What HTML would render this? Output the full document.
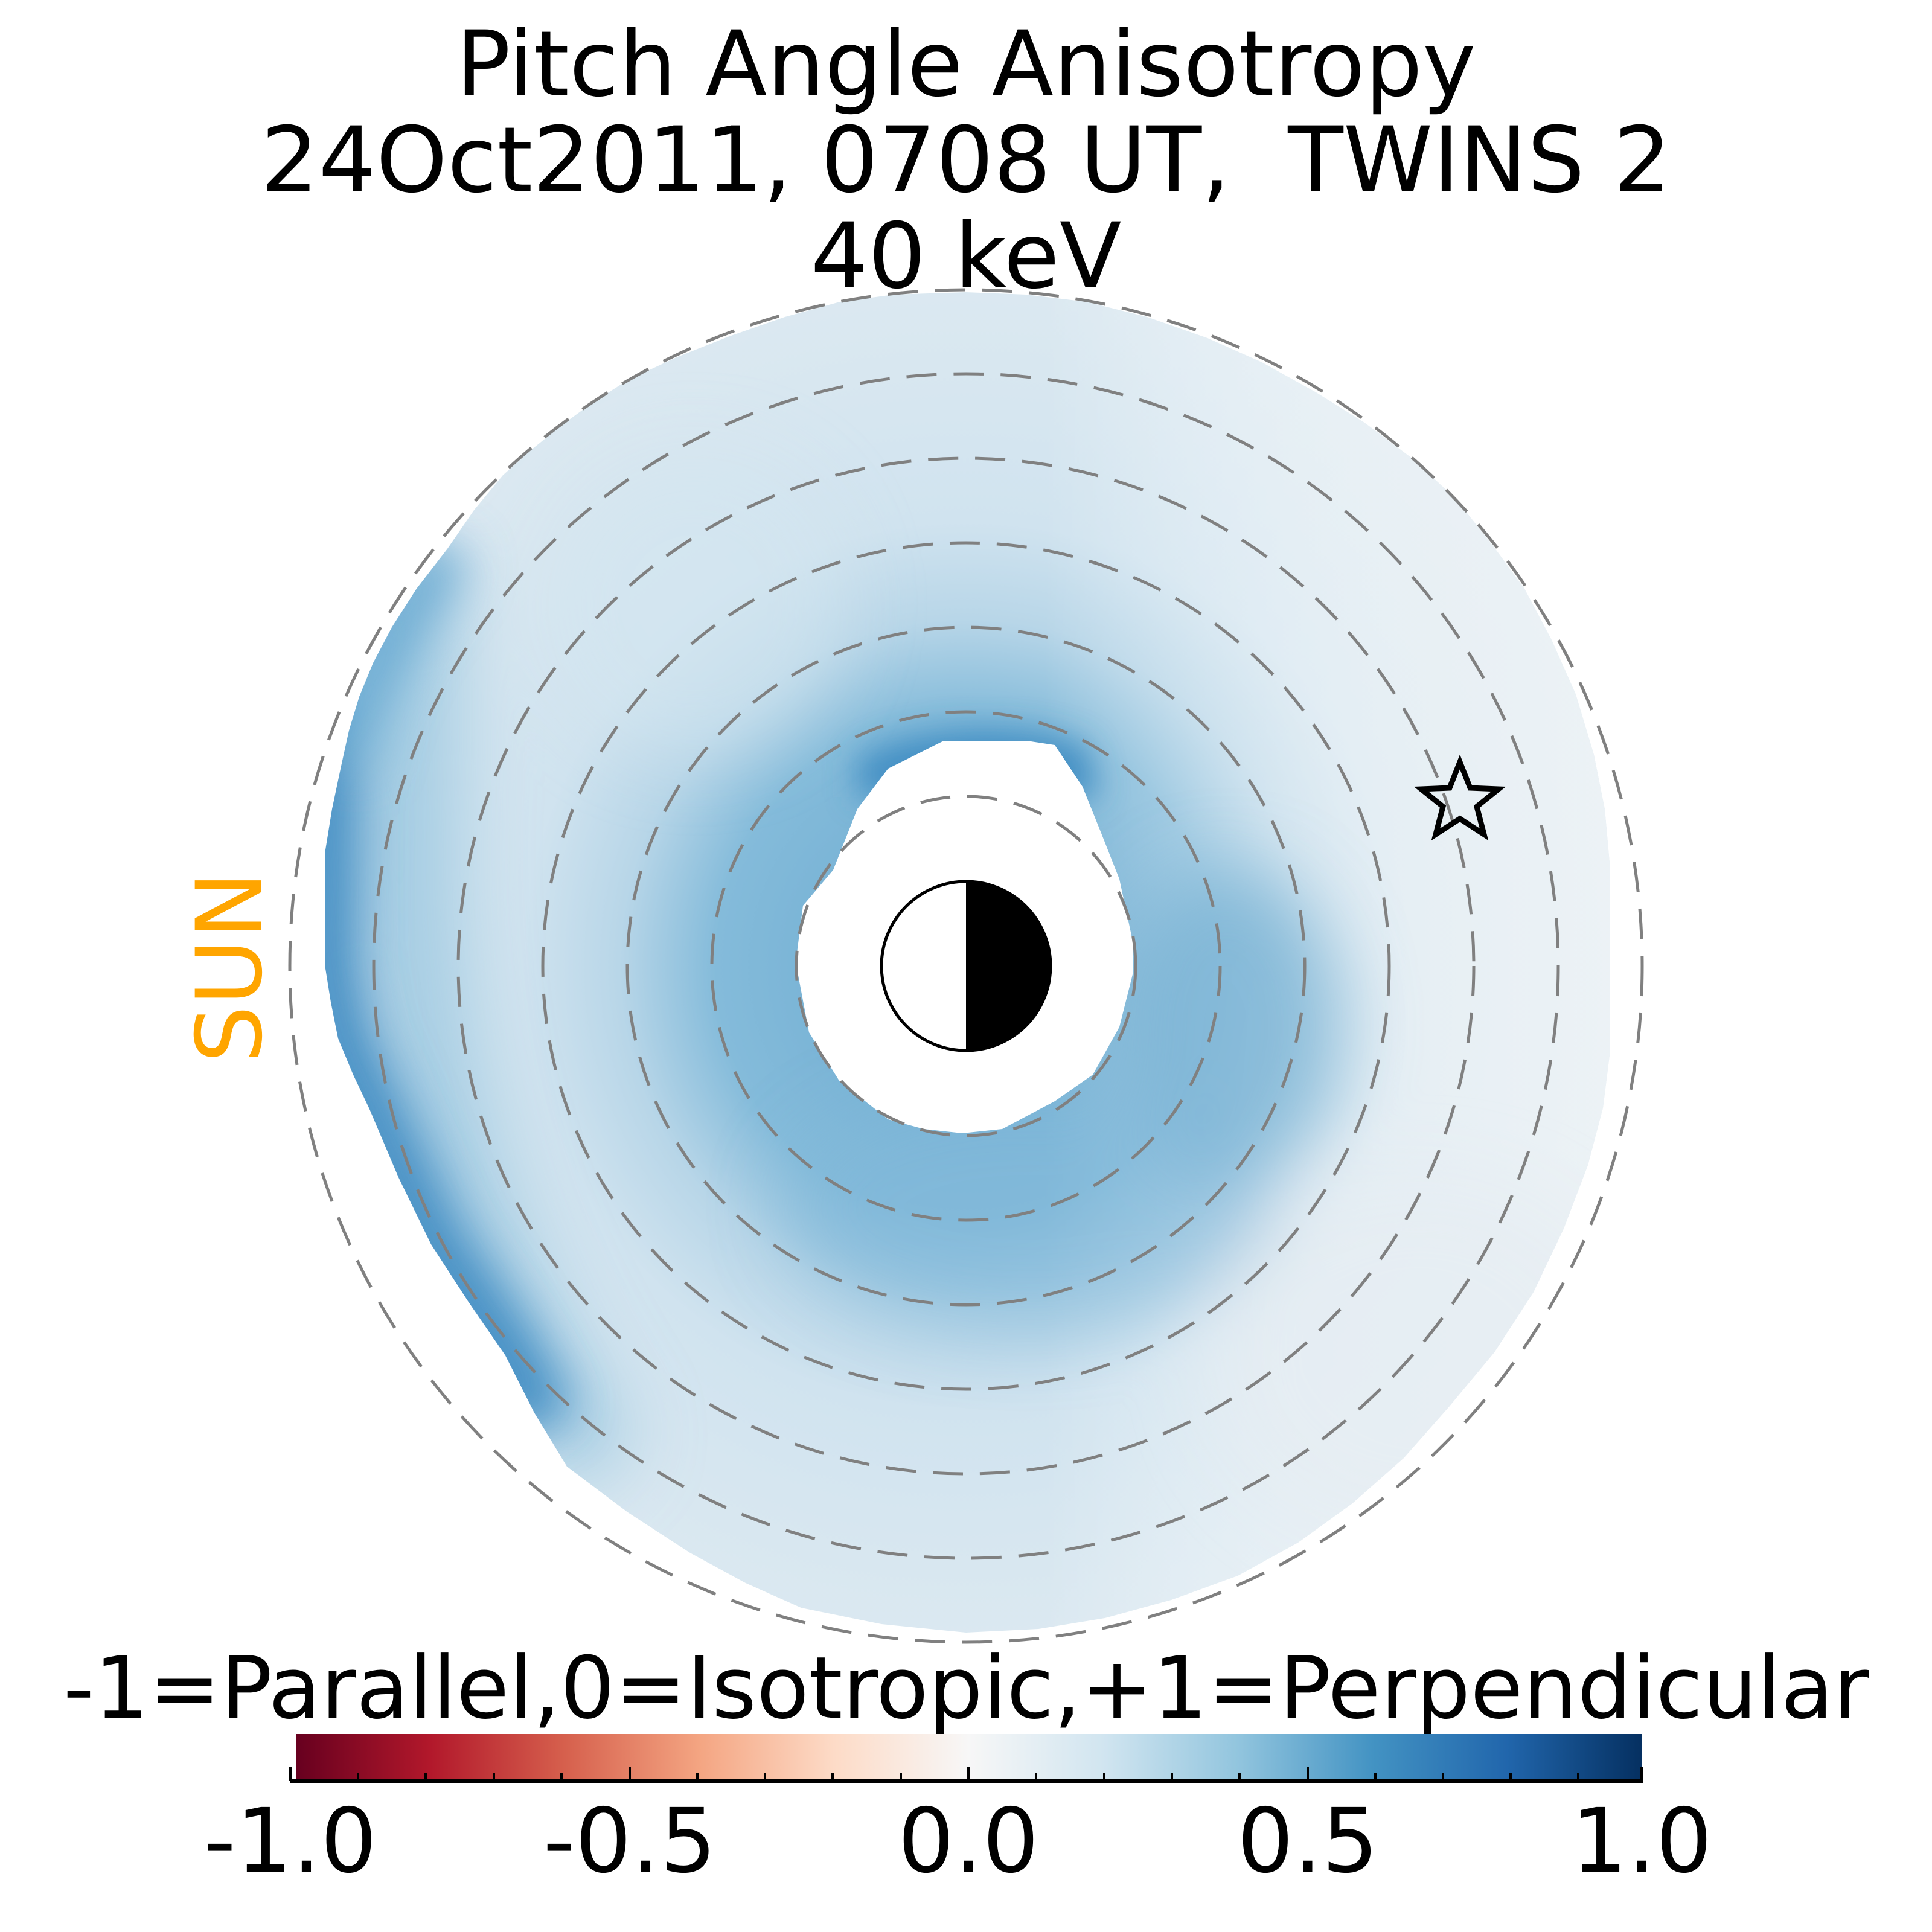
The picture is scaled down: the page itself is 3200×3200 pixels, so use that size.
<!DOCTYPE html>
<html><head><meta charset="utf-8"><style>
html,body{margin:0;padding:0;background:#fff;}
svg{display:block;}
text{font-family:"DejaVu Sans","Liberation Sans",sans-serif;}
</style></head><body>
<svg width="3200" height="3200" viewBox="0 0 3200 3200" xmlns="http://www.w3.org/2000/svg">
<defs>
<clipPath id="reg">
<path d="M1600,484 L1480,488 L1391,500 L1300,525 L1208,557 L1120,592 L1039,630 L980,668 L932,703 L880,745 L833,787 L785,845 L741,909 L690,975 L649,1039 L618,1098 L595,1154 L578,1210 L565,1269 L550,1340 L538,1414 L538,1598 L548,1660 L560,1720 L585,1780 L612,1837 L660,1950 L714,2061 L775,2155 L837,2245 L885,2340 L939,2429 L1040,2505 L1143,2572 L1235,2622 L1327,2663 L1460,2690 L1600,2704 L1720,2698 L1830,2680 L1940,2650 L2050,2610 L2150,2555 L2240,2490 L2325,2415 L2400,2330 L2475,2240 L2540,2140 L2590,2035 L2630,1930 L2655,1835 L2667,1740 L2667,1440 L2658,1340 L2640,1250 L2610,1150 L2570,1060 L2525,975 L2470,900 L2410,825 L2340,760 L2260,700 L2180,650 L2090,600 L2000,560 L1900,525 L1800,500 L1700,488 Z"/>
</clipPath>
<radialGradient id="ring" cx="1600" cy="1600" r="1150" gradientUnits="userSpaceOnUse">
<stop offset="0.12" stop-color="#4a95c6"/>
<stop offset="0.22" stop-color="#7ab4d6"/>
<stop offset="0.36" stop-color="#84bbda"/>
<stop offset="0.50" stop-color="#b8d6e8"/>
<stop offset="0.64" stop-color="#d0e3ef"/>
<stop offset="0.80" stop-color="#d6e6f0"/>
<stop offset="1" stop-color="#dce9f1"/>
</radialGradient>
<linearGradient id="lr" x1="540" y1="0" x2="2700" y2="0" gradientUnits="userSpaceOnUse">
<stop offset="0" stop-color="#ffffff" stop-opacity="0"/>
<stop offset="0.55" stop-color="#ffffff" stop-opacity="0"/>
<stop offset="0.85" stop-color="#eef3f6" stop-opacity="0.75"/>
<stop offset="1" stop-color="#eef3f6" stop-opacity="0.9"/>
</linearGradient>
<filter id="bl" x="-50%" y="-50%" width="200%" height="200%"><feGaussianBlur stdDeviation="60"/></filter>
<filter id="bl3" x="-50%" y="-50%" width="200%" height="200%"><feGaussianBlur stdDeviation="40"/></filter>
<filter id="bl2" x="-50%" y="-50%" width="200%" height="200%"><feGaussianBlur stdDeviation="25"/></filter>
</defs>

<text x="1600" y="158" font-size="150" text-anchor="middle">Pitch Angle Anisotropy</text>
<text x="1600" y="317" font-size="150" text-anchor="middle" xml:space="preserve">24Oct2011, 0708 UT,  TWINS 2</text>
<text x="1600" y="476" font-size="150" text-anchor="middle">40 keV</text>

<g clip-path="url(#reg)">
<rect x="0" y="0" width="3200" height="3200" fill="url(#ring)"/>
<rect x="0" y="0" width="3200" height="3200" fill="url(#lr)"/>
<g filter="url(#bl)">
<path d="M520,1000 C560,1500 600,1900 800,2300 L950,2480 L1050,2380 C820,2050 740,1700 760,1300 L760,950 Z" fill="#9cc8e0" opacity="0.85"/>
<ellipse cx="2030" cy="1700" rx="190" ry="260" fill="#7ab3d5" opacity="0.8"/>
<ellipse cx="1700" cy="2000" rx="400" ry="200" fill="#80b8d8" opacity="0.6"/>
<ellipse cx="1150" cy="1000" rx="250" ry="250" fill="#d4e6f0" opacity="0.6"/>
<ellipse cx="2350" cy="2250" rx="350" ry="300" fill="#e6edf2" opacity="0.7"/>
</g>
<g filter="url(#bl3)">
<path d="M538,1150 L538,1598 L560,1720 L612,1837 L714,2061 L837,2245 L900,2360" fill="none" stroke="#3f8cc2" stroke-width="110"/>
<path d="M565,1269 L595,1154 L649,1039 L741,909" fill="none" stroke="#6aaad2" stroke-width="90"/>
</g>
<g filter="url(#bl2)">
<path d="M1420,1260 C1500,1200 1700,1190 1800,1240 L1820,1320 L1420,1320 Z" fill="#3f8cc2" opacity="0.9"/>
</g>
</g>
<path d="M1563,1227 L1701,1227 L1747,1234 L1793,1303 L1824,1380 L1854,1456 L1877,1563 L1877,1610 L1854,1701 L1810,1780 L1747,1824 L1660,1870 L1594,1877 L1530,1870 L1471,1854 L1390,1790 L1340,1710 L1318,1594 L1330,1500 L1380,1441 L1420,1340 L1471,1273 Z" fill="#fff"/>

<g fill="none" stroke="#808080" stroke-width="5" stroke-dasharray="50 28">
<circle cx="1600" cy="1600" r="281"/>
<circle cx="1600" cy="1600" r="421"/>
<circle cx="1600" cy="1600" r="561"/>
<circle cx="1600" cy="1600" r="701"/>
<circle cx="1600" cy="1600" r="841"/>
<circle cx="1600" cy="1600" r="981"/>
<circle cx="1600" cy="1600" r="1120"/>
</g>

<circle cx="1600" cy="1600" r="140" fill="#fff" stroke="#000" stroke-width="5"/>
<path d="M1600,1460 A140,140 0 0 1 1600,1740 Z" fill="#000"/>

<polygon points="2418,1262 2435,1305 2482,1307 2446,1336 2458,1382 2418,1356 2378,1382 2390,1336 2354,1307 2401,1305" fill="none" stroke="#000" stroke-width="9" stroke-linejoin="miter"/>

<text x="0" y="0" font-size="150" fill="#ffa500" text-anchor="middle" transform="translate(432,1602) rotate(-90)">SUN</text>

<defs>
<linearGradient id="cb" x1="0" y1="0" x2="1" y2="0">
<stop offset="0" stop-color="#67001f"/>
<stop offset="0.1" stop-color="#b2182b"/>
<stop offset="0.2" stop-color="#d6604d"/>
<stop offset="0.3" stop-color="#f4a582"/>
<stop offset="0.4" stop-color="#fddbc7"/>
<stop offset="0.5" stop-color="#f7f7f7"/>
<stop offset="0.6" stop-color="#d1e5f0"/>
<stop offset="0.7" stop-color="#92c5de"/>
<stop offset="0.8" stop-color="#4393c3"/>
<stop offset="0.9" stop-color="#2166ac"/>
<stop offset="1" stop-color="#053061"/>
</linearGradient>
</defs>
<text x="1600" y="2845" font-size="142" text-anchor="middle">-1=Parallel,0=Isotropic,+1=Perpendicular</text>
<rect x="490" y="2872" width="2229" height="76" fill="url(#cb)"/>
<line x1="480" y1="2950" x2="2722" y2="2950" stroke="#000" stroke-width="6"/>
<g stroke="#000" stroke-width="4">
<line x1="481" y1="2926" x2="481" y2="2950"/>
<line x1="1043" y1="2926" x2="1043" y2="2950"/>
<line x1="1604" y1="2926" x2="1604" y2="2950"/>
<line x1="2166" y1="2926" x2="2166" y2="2950"/>
<line x1="2719" y1="2926" x2="2719" y2="2950"/>
<line x1="593" y1="2937" x2="593" y2="2950"/>
<line x1="705" y1="2937" x2="705" y2="2950"/>
<line x1="818" y1="2937" x2="818" y2="2950"/>
<line x1="930" y1="2937" x2="930" y2="2950"/>
<line x1="1155" y1="2937" x2="1155" y2="2950"/>
<line x1="1267" y1="2937" x2="1267" y2="2950"/>
<line x1="1379" y1="2937" x2="1379" y2="2950"/>
<line x1="1492" y1="2937" x2="1492" y2="2950"/>
<line x1="1716" y1="2937" x2="1716" y2="2950"/>
<line x1="1829" y1="2937" x2="1829" y2="2950"/>
<line x1="1941" y1="2937" x2="1941" y2="2950"/>
<line x1="2053" y1="2937" x2="2053" y2="2950"/>
<line x1="2278" y1="2937" x2="2278" y2="2950"/>
<line x1="2390" y1="2937" x2="2390" y2="2950"/>
<line x1="2502" y1="2937" x2="2502" y2="2950"/>
<line x1="2614" y1="2937" x2="2614" y2="2950"/>
</g>
<g font-size="147" text-anchor="middle">
<text x="481" y="3100">-1.0</text>
<text x="1043" y="3100">-0.5</text>
<text x="1604" y="3100">0.0</text>
<text x="2166" y="3100">0.5</text>
<text x="2719" y="3100">1.0</text>
</g>
</svg>
</body></html>
